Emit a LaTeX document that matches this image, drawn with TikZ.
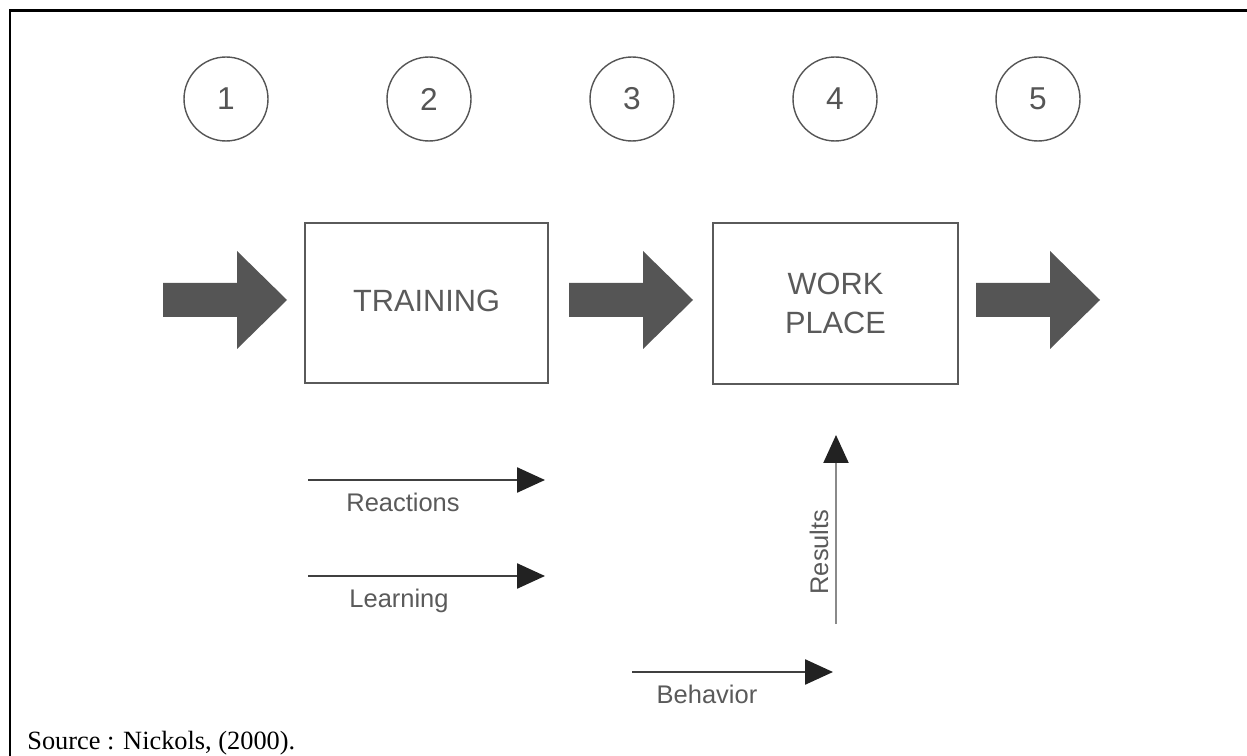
\documentclass[tikz,border=0pt]{standalone}
\usepackage{fontspec}
\setmainfont{Liberation Sans}
\newfontfamily\srcfont{Liberation Serif}
\usetikzlibrary{arrows.meta}
\definecolor{inkgray}{HTML}{555555}
\definecolor{boxgray}{HTML}{5A5A5A}
\definecolor{textgray}{HTML}{5A5A5A}
\definecolor{tipblack}{HTML}{222222}
\definecolor{resgray}{HTML}{8A8A8A}
\tikzset{
  stage/.style={circle, draw=inkgray, line width=0.8pt, minimum size=1.68cm, inner sep=0pt,
    text=inkgray, font=\fontsize{18}{20}\selectfont},
  stagebox/.style={draw=boxgray, line width=1.1pt, inner sep=0pt, align=center,
    text=textgray, font=\fontsize{17.5}{22}\selectfont},
  measure/.style={line width=1.4pt, draw=black!75, -{Triangle[length=0.56cm,width=0.5cm,color=tipblack]}},
  lbl/.style={anchor=base, inner sep=0pt, text=textgray, font=\fontsize{14.5}{16}\selectfont},
}
\begin{document}
\begin{tikzpicture}[x=0.02cm,y=-0.02cm]
    \useasboundingbox (0,0) rectangle (1247,756);
    % frame
    \draw[line width=1.7pt] (1247,11)--(10,11)--(10,756);
    % stages
    \foreach \i/\x in {1/226,2/429,3/632,4/835,5/1038}
        \node[stage] (c\i) at (\x,99) {\i};
    % boxes
    \node[stagebox, minimum width=4.86cm, minimum height=3.2cm] (train) at (426.5,303) {\raisebox{0.08cm}{TRAINING}};
    \node[stagebox, minimum width=4.9cm, minimum height=3.22cm] (work) at (835.5,303.5) {WORK\\PLACE};
    % block arrows
    \foreach \x in {163,569,976}
        \fill[inkgray] (\x,283)--++(74,0)--++(0,-32)--++(50,49)--++(-50,49)--++(0,-32)--++(-74,0)--cycle;
    % levels
    \coordinate (reacA) at (308,480);
    \coordinate (reacB) at (545,480);
    \coordinate (learnA) at (308,576);
    \coordinate (learnB) at (545,576);
    \coordinate (behavA) at (632,672);
    \coordinate (behavB) at (833,672);
    \coordinate (resA) at (836,624);
    \coordinate (resB) at (836,435);
    \draw[measure] (reacA)--(reacB);
    \draw[measure] (learnA)--(learnB);
    \draw[measure] (behavA)--(behavB);
    \draw[measure, draw=resgray, line width=1.2pt] (resA)--(resB);
    \node[lbl] (reacl) at (403,511) {Reactions};
    \node[lbl] (learnl) at (399,607) {Learning};
    \node[lbl] (behavl) at (707,703) {Behavior};
    \node[lbl, rotate=90] (resl) at (828,552) {Results};
    % source
    \node[anchor=base west, inner sep=0pt, font=\srcfont\fontsize{15}{17}\selectfont] (src) at (27,749) {Source : Nickols, (2000).};
\end{tikzpicture}
\end{document}
